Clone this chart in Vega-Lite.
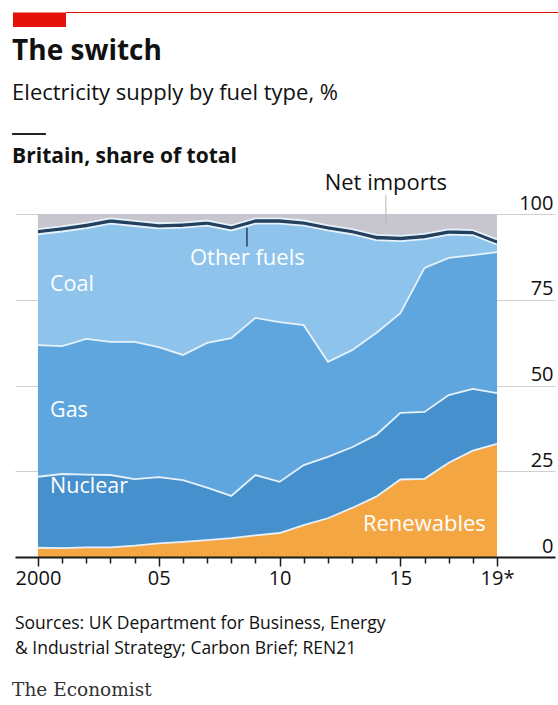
{
  "$schema": "https://vega.github.io/schema/vega-lite/v6.json",
  "autosize": "none",
  "width": 540,
  "height": 343,
  "padding": {"left": 15, "top": 214, "right": 3, "bottom": 148},
  "background": "white",
  "config": {"view": {"stroke": null}, "font": "Open Sans", "text": {"font": "Open Sans"}, "axisX": {"labelOverlap": false}},
  "datasets": {
    "supply": [
      {"year": 2000, "fuel": "Renewables", "share": 2.7}, {"year": 2000, "fuel": "Nuclear", "share": 20.7}, {"year": 2000, "fuel": "Gas", "share": 38.4}, {"year": 2000, "fuel": "Coal", "share": 32.3}, {"year": 2000, "fuel": "Other fuels", "share": 1.5}, {"year": 2000, "fuel": "Net imports", "share": 4.4},
      {"year": 2001, "fuel": "Renewables", "share": 2.6}, {"year": 2001, "fuel": "Nuclear", "share": 21.6}, {"year": 2001, "fuel": "Gas", "share": 37.3}, {"year": 2001, "fuel": "Coal", "share": 33.4}, {"year": 2001, "fuel": "Other fuels", "share": 1.5}, {"year": 2001, "fuel": "Net imports", "share": 3.6},
      {"year": 2002, "fuel": "Renewables", "share": 2.8}, {"year": 2002, "fuel": "Nuclear", "share": 21.2}, {"year": 2002, "fuel": "Gas", "share": 39.6}, {"year": 2002, "fuel": "Coal", "share": 32.3}, {"year": 2002, "fuel": "Other fuels", "share": 1.5}, {"year": 2002, "fuel": "Net imports", "share": 2.6},
      {"year": 2003, "fuel": "Renewables", "share": 2.8}, {"year": 2003, "fuel": "Nuclear", "share": 21.1}, {"year": 2003, "fuel": "Gas", "share": 38.8}, {"year": 2003, "fuel": "Coal", "share": 34.5}, {"year": 2003, "fuel": "Other fuels", "share": 1.5}, {"year": 2003, "fuel": "Net imports", "share": 1.3},
      {"year": 2004, "fuel": "Renewables", "share": 3.3}, {"year": 2004, "fuel": "Nuclear", "share": 19.4}, {"year": 2004, "fuel": "Gas", "share": 40.0}, {"year": 2004, "fuel": "Coal", "share": 33.8}, {"year": 2004, "fuel": "Other fuels", "share": 1.5}, {"year": 2004, "fuel": "Net imports", "share": 2.0},
      {"year": 2005, "fuel": "Renewables", "share": 4.0}, {"year": 2005, "fuel": "Nuclear", "share": 19.3}, {"year": 2005, "fuel": "Gas", "share": 37.9}, {"year": 2005, "fuel": "Coal", "share": 34.6}, {"year": 2005, "fuel": "Other fuels", "share": 1.5}, {"year": 2005, "fuel": "Net imports", "share": 2.7},
      {"year": 2006, "fuel": "Renewables", "share": 4.4}, {"year": 2006, "fuel": "Nuclear", "share": 18.0}, {"year": 2006, "fuel": "Gas", "share": 36.5}, {"year": 2006, "fuel": "Coal", "share": 37.1}, {"year": 2006, "fuel": "Other fuels", "share": 1.5}, {"year": 2006, "fuel": "Net imports", "share": 2.5},
      {"year": 2007, "fuel": "Renewables", "share": 4.9}, {"year": 2007, "fuel": "Nuclear", "share": 15.3}, {"year": 2007, "fuel": "Gas", "share": 42.2}, {"year": 2007, "fuel": "Coal", "share": 34.2}, {"year": 2007, "fuel": "Other fuels", "share": 1.5}, {"year": 2007, "fuel": "Net imports", "share": 1.9},
      {"year": 2008, "fuel": "Renewables", "share": 5.5}, {"year": 2008, "fuel": "Nuclear", "share": 12.3}, {"year": 2008, "fuel": "Gas", "share": 46.0}, {"year": 2008, "fuel": "Coal", "share": 31.4}, {"year": 2008, "fuel": "Other fuels", "share": 1.5}, {"year": 2008, "fuel": "Net imports", "share": 3.3},
      {"year": 2009, "fuel": "Renewables", "share": 6.3}, {"year": 2009, "fuel": "Nuclear", "share": 17.6}, {"year": 2009, "fuel": "Gas", "share": 45.8}, {"year": 2009, "fuel": "Coal", "share": 27.5}, {"year": 2009, "fuel": "Other fuels", "share": 1.5}, {"year": 2009, "fuel": "Net imports", "share": 1.3},
      {"year": 2010, "fuel": "Renewables", "share": 7.0}, {"year": 2010, "fuel": "Nuclear", "share": 14.9}, {"year": 2010, "fuel": "Gas", "share": 46.6}, {"year": 2010, "fuel": "Coal", "share": 28.7}, {"year": 2010, "fuel": "Other fuels", "share": 1.5}, {"year": 2010, "fuel": "Net imports", "share": 1.3},
      {"year": 2011, "fuel": "Renewables", "share": 9.3}, {"year": 2011, "fuel": "Nuclear", "share": 17.5}, {"year": 2011, "fuel": "Gas", "share": 40.8}, {"year": 2011, "fuel": "Coal", "share": 29.0}, {"year": 2011, "fuel": "Other fuels", "share": 1.5}, {"year": 2011, "fuel": "Net imports", "share": 1.9},
      {"year": 2012, "fuel": "Renewables", "share": 11.3}, {"year": 2012, "fuel": "Nuclear", "share": 17.9}, {"year": 2012, "fuel": "Gas", "share": 27.7}, {"year": 2012, "fuel": "Coal", "share": 38.3}, {"year": 2012, "fuel": "Other fuels", "share": 1.5}, {"year": 2012, "fuel": "Net imports", "share": 3.3},
      {"year": 2013, "fuel": "Renewables", "share": 14.3}, {"year": 2013, "fuel": "Nuclear", "share": 17.7}, {"year": 2013, "fuel": "Gas", "share": 28.3}, {"year": 2013, "fuel": "Coal", "share": 33.8}, {"year": 2013, "fuel": "Other fuels", "share": 1.5}, {"year": 2013, "fuel": "Net imports", "share": 4.4},
      {"year": 2014, "fuel": "Renewables", "share": 17.6}, {"year": 2014, "fuel": "Nuclear", "share": 18.0}, {"year": 2014, "fuel": "Gas", "share": 29.7}, {"year": 2014, "fuel": "Coal", "share": 27.1}, {"year": 2014, "fuel": "Other fuels", "share": 1.5}, {"year": 2014, "fuel": "Net imports", "share": 6.1},
      {"year": 2015, "fuel": "Renewables", "share": 22.6}, {"year": 2015, "fuel": "Nuclear", "share": 19.4}, {"year": 2015, "fuel": "Gas", "share": 29.1}, {"year": 2015, "fuel": "Coal", "share": 21.0}, {"year": 2015, "fuel": "Other fuels", "share": 1.5}, {"year": 2015, "fuel": "Net imports", "share": 6.4},
      {"year": 2016, "fuel": "Renewables", "share": 22.8}, {"year": 2016, "fuel": "Nuclear", "share": 19.5}, {"year": 2016, "fuel": "Gas", "share": 42.0}, {"year": 2016, "fuel": "Coal", "share": 8.4}, {"year": 2016, "fuel": "Other fuels", "share": 1.5}, {"year": 2016, "fuel": "Net imports", "share": 5.8},
      {"year": 2017, "fuel": "Renewables", "share": 27.5}, {"year": 2017, "fuel": "Nuclear", "share": 19.7}, {"year": 2017, "fuel": "Gas", "share": 40.0}, {"year": 2017, "fuel": "Coal", "share": 6.8}, {"year": 2017, "fuel": "Other fuels", "share": 1.5}, {"year": 2017, "fuel": "Net imports", "share": 4.5},
      {"year": 2018, "fuel": "Renewables", "share": 31.0}, {"year": 2018, "fuel": "Nuclear", "share": 18.0}, {"year": 2018, "fuel": "Gas", "share": 39.0}, {"year": 2018, "fuel": "Coal", "share": 5.8}, {"year": 2018, "fuel": "Other fuels", "share": 1.5}, {"year": 2018, "fuel": "Net imports", "share": 4.7},
      {"year": 2019, "fuel": "Renewables", "share": 33.0}, {"year": 2019, "fuel": "Nuclear", "share": 14.8}, {"year": 2019, "fuel": "Gas", "share": 41.1}, {"year": 2019, "fuel": "Coal", "share": 2.2}, {"year": 2019, "fuel": "Other fuels", "share": 1.5}, {"year": 2019, "fuel": "Net imports", "share": 7.4}
    ]
  },
  "layer": [
    {
      "data": {"name": "supply"},
      "transform": [
        {"calculate": "indexof(['Renewables', 'Nuclear', 'Gas', 'Coal', 'Other fuels', 'Net imports'], datum.fuel)", "as": "stack_rank"},
        {"stack": "share", "groupby": ["year"], "sort": [{"field": "stack_rank", "order": "ascending"}], "as": ["s0", "s1"]}
      ],
      "mark": {"type": "area", "interpolate": "linear"},
      "encoding": {
        "x": {
          "field": "year", "type": "quantitative",
          "scale": {"domain": [1999.05, 2021.4], "nice": false, "zero": false},
          "axis": {
            "values": [2000, 2001, 2002, 2003, 2004, 2005, 2006, 2007, 2008, 2009, 2010, 2011, 2012, 2013, 2014, 2015, 2016, 2017, 2018, 2019],
            "tickCount": 30,
            "labelExpr": "datum.value == 2000 ? '2000' : datum.value == 2019 ? '19*' : datum.value % 5 == 0 ? substring(toString(datum.value), 2) : ''",
            "title": null, "grid": false,
            "domainColor": "#1a1a1a", "domainWidth": 2,
            "tickColor": "#1a1a1a", "tickWidth": 1.5,
            "tickSize": {"condition": {"test": "datum.value % 5 == 0 || datum.value == 2019", "value": 9}, "value": 6},
            "labelFontSize": 20, "labelColor": "#111", "labelPadding": 2,
            "labelFlush": false, "labelOverlap": false, "zindex": 1
          }
        },
        "y": {
          "field": "s1", "type": "quantitative",
          "scale": {"domain": [0, 100], "nice": false},
          "axis": {
            "orient": "right", "values": [0, 25, 50, 75, 100], "title": null,
            "grid": true, "gridColor": "#cfcfcf", "gridWidth": 1,
            "domain": false, "ticks": false, "tickSize": 0,
            "labelAlign": "right", "labelBaseline": "alphabetic", "labelOffset": -5, "labelPadding": -2,
            "labelFontSize": 20, "labelColor": "#111"
          }
        },
        "y2": {"field": "s0"},
        "color": {
          "field": "fuel", "type": "nominal",
          "scale": {
            "domain": ["Renewables", "Nuclear", "Gas", "Coal", "Other fuels", "Net imports"],
            "range": ["#f4a643", "#4690ce", "#60a6de", "#8ec3ec", "#23405f", "#c7c6ce"]
          },
          "legend": null
        }
      }
    },
    {
      "data": {"name": "supply"},
      "transform": [
        {"calculate": "indexof(['Renewables', 'Nuclear', 'Gas', 'Coal', 'Other fuels', 'Net imports'], datum.fuel)", "as": "stack_rank"},
        {"stack": "share", "groupby": ["year"], "sort": [{"field": "stack_rank", "order": "ascending"}], "as": ["s0", "s1"]},
        {"filter": "datum.fuel != 'Net imports'"}
      ],
      "mark": {"type": "line", "strokeWidth": 1.8, "interpolate": "linear", "color": "#e6f2fb"},
      "encoding": {
        "x": {"field": "year", "type": "quantitative"},
        "y": {"field": "s1", "type": "quantitative"},
        "detail": {"field": "fuel", "type": "nominal"}
      }
    },
    {
      "data": {"values": [{}]},
      "mark": {"type": "rule", "color": "#23405f", "strokeWidth": 1.5},
      "encoding": {"x": {"datum": 2008.65}, "y": {"datum": 96.0}, "y2": {"datum": 90.5}}
    },
    {
      "data": {"values": [{}]},
      "mark": {"type": "rule", "color": "#b5b5b5", "strokeWidth": 1},
      "encoding": {"x": {"datum": 2014.4}, "y": {"datum": 105.5}, "y2": {"datum": 97.5}}
    },
    {
      "data": {"values": [{}]},
      "mark": {"type": "rule", "color": "#e3120b", "strokeWidth": 14.5},
      "encoding": {"x": {"datum": 1998.967}, "x2": {"datum": 2001.16}, "y": {"datum": 156.6}}
    },
    {
      "data": {"values": [{}]},
      "mark": {"type": "rule", "color": "#e3120b", "strokeWidth": 1.2},
      "encoding": {"x": {"datum": 2001.16}, "x2": {"datum": 2021.6}, "y": {"datum": 158.75}}
    },
    {
      "data": {"values": [{}]},
      "mark": {"type": "rule", "color": "#222", "strokeWidth": 2},
      "encoding": {"x": {"datum": 1998.93}, "x2": {"datum": 2000.33}, "y": {"datum": 123.3}}
    },
    {
      "data": {"values": [{}]},
      "mark": {"type": "text", "text": "The switch", "fontSize": 28, "fontWeight": "bold", "color": "#111", "align": "left", "baseline": "alphabetic"},
      "encoding": {"x": {"datum": 1998.93}, "y": {"datum": 144.9}}
    },
    {
      "data": {"values": [{}]},
      "mark": {"type": "text", "text": "Electricity supply by fuel type, %", "fontSize": 22, "color": "#111", "align": "left", "baseline": "alphabetic"},
      "encoding": {"x": {"datum": 1998.93}, "y": {"datum": 133.2}}
    },
    {
      "data": {"values": [{}]},
      "mark": {"type": "text", "text": "Britain, share of total", "fontSize": 21, "fontWeight": "bold", "color": "#111", "align": "left", "baseline": "alphabetic"},
      "encoding": {"x": {"datum": 1998.93}, "y": {"datum": 114.9}}
    },
    {
      "data": {"values": [{}]},
      "mark": {"type": "text", "text": "Net imports", "fontSize": 22, "color": "#111", "align": "center", "baseline": "alphabetic"},
      "encoding": {"x": {"datum": 2014.4}, "y": {"datum": 107.0}}
    },
    {
      "data": {"values": [{}]},
      "mark": {"type": "text", "text": "Coal", "fontSize": 21.5, "color": "white", "align": "left", "baseline": "middle"},
      "encoding": {"x": {"datum": 2000.5}, "y": {"datum": 79.3}}
    },
    {
      "data": {"values": [{}]},
      "mark": {"type": "text", "text": "Other fuels", "fontSize": 22, "color": "white", "align": "left", "baseline": "middle"},
      "encoding": {"x": {"datum": 2006.29}, "y": {"datum": 87.2}}
    },
    {
      "data": {"values": [{}]},
      "mark": {"type": "text", "text": "Gas", "fontSize": 21.5, "color": "white", "align": "left", "baseline": "middle"},
      "encoding": {"x": {"datum": 2000.5}, "y": {"datum": 42.6}}
    },
    {
      "data": {"values": [{}]},
      "mark": {"type": "text", "text": "Nuclear", "fontSize": 21.5, "color": "white", "align": "left", "baseline": "middle"},
      "encoding": {"x": {"datum": 2000.5}, "y": {"datum": 20.4}}
    },
    {
      "data": {"values": [{}]},
      "mark": {"type": "text", "text": "Renewables", "fontSize": 22, "color": "white", "align": "left", "baseline": "middle"},
      "encoding": {"x": {"datum": 2013.45}, "y": {"datum": 9.6}}
    },
    {
      "data": {"values": [{}]},
      "mark": {"type": "text", "text": "Sources: UK Department for Business, Energy\n& Industrial Strategy; Carbon Brief; REN21", "lineBreak": "\n", "lineHeight": 25, "fontSize": 17.5, "color": "#111", "align": "left", "baseline": "alphabetic"},
      "encoding": {"x": {"datum": 1999.05}, "y": {"datum": -21.0}}
    },
    {
      "data": {"values": [{}]},
      "mark": {"type": "text", "text": "The Economist", "font": "DejaVu Serif", "fontSize": 18.5, "color": "#333", "align": "left", "baseline": "alphabetic"},
      "encoding": {"x": {"datum": 1998.93}, "y": {"datum": -40.5}}
    }
  ]
}
